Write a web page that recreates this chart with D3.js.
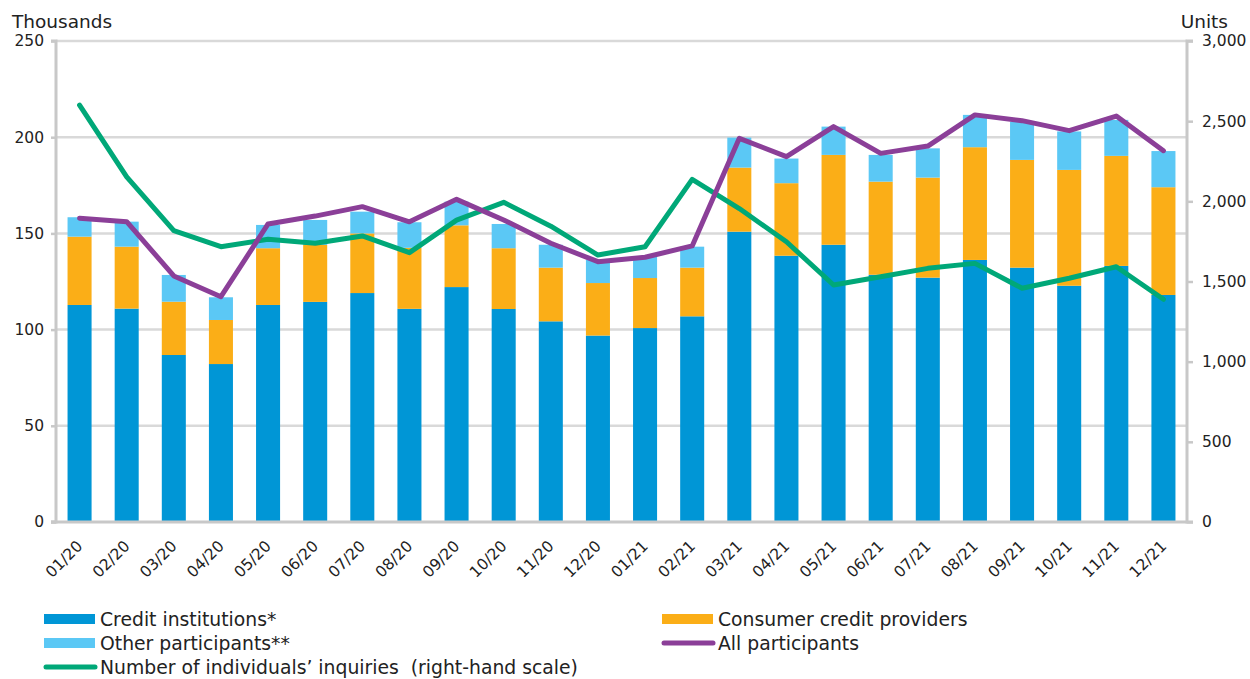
<!DOCTYPE html>
<html>
<head>
<meta charset="utf-8">
<script src="https://cdn.jsdelivr.net/npm/d3@7/dist/d3.min.js"></script>
<style>
  html, body { margin: 0; padding: 0; background: #fff; }
  svg { display: block; font-family: "DejaVu Sans", Verdana, sans-serif; }
</style>
</head>
<body>
<svg id="chart" width="1250" height="679"></svg>
<script>
// Monthly periods
const months = ["01/20","02/20","03/20","04/20","05/20","06/20","07/20","08/20","09/20","10/20","11/20","12/20",
                "01/21","02/21","03/21","04/21","05/21","06/21","07/21","08/21","09/21","10/21","11/21","12/21"];

// Inquiries by participant type, thousands (stacked bars)
const creditInstitutions = [112.8,110.9,86.8,82.1,112.8,114.4,119.0,110.8,122.1,110.7,104.3,96.9,
                            100.8,106.9,150.9,138.4,144.1,128.5,127.0,136.2,132.2,122.8,133.1,118.0];
const consumerCredit     = [35.5,32.2,27.7,22.9,29.5,29.6,31.0,31.7,32.1,31.6,27.9,27.3,
                            26.0,25.3,33.3,37.7,46.7,48.4,52.0,58.6,56.0,60.2,57.2,56.0];
const otherParticipants  = [10.1,13.0,13.9,11.8,12.1,13.0,11.3,13.3,12.3,12.6,11.9,12.0,
                            11.1,10.9,15.6,12.8,14.7,13.9,15.2,16.8,19.8,20.0,18.7,18.8];

// All participants, thousands (left scale)
const allParticipants = [157.9,156.1,127.9,117.1,154.9,159.0,163.9,156.0,167.7,157.0,144.9,135.3,
                         137.6,143.5,199.4,189.9,205.5,191.6,195.4,211.6,208.6,203.4,211.0,193.0];

// Number of individuals' inquiries, units (right scale)
const individualsInquiries = [2600,2152,1817,1717,1763,1738,1784,1680,1883,1994,1845,1665,
                              1717,2137,1955,1748,1478,1530,1582,1613,1458,1520,1592,1389];

const leftTicks = [0, 50, 100, 150, 200, 250];
const rightTicks = [0, 500, 1000, 1500, 2000, 2500, 3000];

const colors = {
  credit: "#0096d6",
  consumer: "#fbae17",
  other: "#5bc8f5",
  all: "#8b3f98",
  individuals: "#00a878"
};

const svg = d3.select("#chart");
const plot = { left: 56, right: 1187, top: 41, bottom: 522 };

const x = d3.scaleBand().domain(months).range([plot.left, plot.right])
  .paddingInner(0.49).paddingOuter(0.245);
const yL = d3.scaleLinear().domain([0, 250]).range([plot.bottom, plot.top]);
const yR = d3.scaleLinear().domain([0, 3000]).range([plot.bottom, plot.top]);

// Horizontal gridlines on left-scale ticks
svg.append("g")
  .selectAll("line").data(leftTicks.filter(d => d > 0)).join("line")
  .attr("x1", plot.left).attr("x2", plot.right)
  .attr("y1", d => yL(d)).attr("y2", d => yL(d))
  .attr("stroke", "#d9d9d9").attr("stroke-width", 2.5);

// Stacked bars
const rows = months.map((m, i) => ({
  month: m,
  credit: creditInstitutions[i],
  consumer: consumerCredit[i],
  other: otherParticipants[i]
}));
const stack = d3.stack().keys(["credit", "consumer", "other"]);
const layers = stack(rows);

svg.append("g")
  .selectAll("g").data(layers).join("g")
  .attr("fill", d => colors[d.key])
  .selectAll("rect").data(d => d).join("rect")
  .attr("x", d => x(d.data.month))
  .attr("width", x.bandwidth())
  .attr("y", d => yL(d[1]))
  .attr("height", d => yL(d[0]) - yL(d[1]));

// Axes
const axisColor = "#c8c8c8";
const leftAxis = svg.append("g").attr("transform", `translate(${plot.left},0)`)
  .call(d3.axisLeft(yL).tickValues(leftTicks).tickSize(5).tickPadding(7));
const rightAxis = svg.append("g").attr("transform", `translate(${plot.right},0)`)
  .call(d3.axisRight(yR).tickValues(rightTicks).tickSize(6).tickPadding(9)
    .tickFormat(d3.format(",")));
[leftAxis, rightAxis].forEach(g => {
  g.select(".domain").attr("stroke", axisColor).attr("stroke-width", 3);
  g.selectAll(".tick line").attr("stroke", axisColor).attr("stroke-width", 2.5);
  g.selectAll(".tick text").attr("fill", "#222").style("font-size", "15.5px")
    .style("font-family", "DejaVu Sans, Verdana, sans-serif");
});
leftAxis.select(".domain").attr("d", `M-5,${plot.top}H0V${plot.bottom}H-5`);
rightAxis.select(".domain").attr("d", `M6,${plot.top}H0V${plot.bottom}H6`);

// Baseline
svg.append("line")
  .attr("x1", plot.left - 5).attr("x2", plot.right)
  .attr("y1", plot.bottom).attr("y2", plot.bottom)
  .attr("stroke", axisColor).attr("stroke-width", 3);

// Category axis labels, rotated
const bottomAxis = svg.append("g").attr("transform", `translate(0,${plot.bottom})`)
  .call(d3.axisBottom(x).tickSize(0).tickPadding(0));
bottomAxis.select(".domain").remove();
bottomAxis.selectAll(".tick text")
  .attr("fill", "#222").style("font-size", "15.5px")
  .style("font-family", "DejaVu Sans, Verdana, sans-serif")
  .attr("text-anchor", "end")
  .attr("dy", null)
  .attr("transform", "translate(4,25) rotate(-45)")
  .attr("y", 0).attr("x", 0);

// Lines
const lineL = d3.line().x((d, i) => x(months[i]) + x.bandwidth() / 2).y(d => yL(d));
const lineR = d3.line().x((d, i) => x(months[i]) + x.bandwidth() / 2).y(d => yR(d));

svg.append("path").datum(individualsInquiries)
  .attr("d", lineR).attr("fill", "none")
  .attr("stroke", colors.individuals).attr("stroke-width", 5)
  .attr("stroke-linejoin", "round").attr("stroke-linecap", "round");

svg.append("path").datum(allParticipants)
  .attr("d", lineL).attr("fill", "none")
  .attr("stroke", colors.all).attr("stroke-width", 5)
  .attr("stroke-linejoin", "round").attr("stroke-linecap", "round");

// Axis titles
svg.append("text").attr("x", 12).attr("y", 28)
  .attr("fill", "#222").style("font-size", "18.5px").text("Thousands");
svg.append("text").attr("x", 1228).attr("y", 28).attr("text-anchor", "end")
  .attr("fill", "#222").style("font-size", "18.5px").text("Units");

// Legend
const legendItems = [
  { label: "Credit institutions*", color: colors.credit, type: "rect", x: 44, y: 619 },
  { label: "Consumer credit providers", color: colors.consumer, type: "rect", x: 662, y: 619 },
  { label: "Other participants**", color: colors.other, type: "rect", x: 44, y: 643 },
  { label: "All participants", color: colors.all, type: "line", x: 662, y: 643 },
  { label: "Number of individuals\u2019 inquiries  (right-hand scale)", color: colors.individuals, type: "line", x: 44, y: 667 }
];
const legend = svg.append("g").selectAll("g").data(legendItems).join("g")
  .attr("transform", d => `translate(${d.x},${d.y})`);
legend.filter(d => d.type === "rect").append("rect")
  .attr("x", 0).attr("y", -5).attr("width", 51).attr("height", 10)
  .attr("fill", d => d.color);
legend.filter(d => d.type === "line").append("line")
  .attr("x1", 2).attr("x2", 51).attr("y1", 0).attr("y2", 0)
  .attr("stroke", d => d.color).attr("stroke-width", 5).attr("stroke-linecap", "round");
legend.append("text")
  .attr("x", 56).attr("y", 0).attr("dy", "0.36em")
  .attr("fill", "#222").style("font-size", "18.8px")
  .style("white-space", "pre")
  .text(d => d.label);
</script>
</body>
</html>
